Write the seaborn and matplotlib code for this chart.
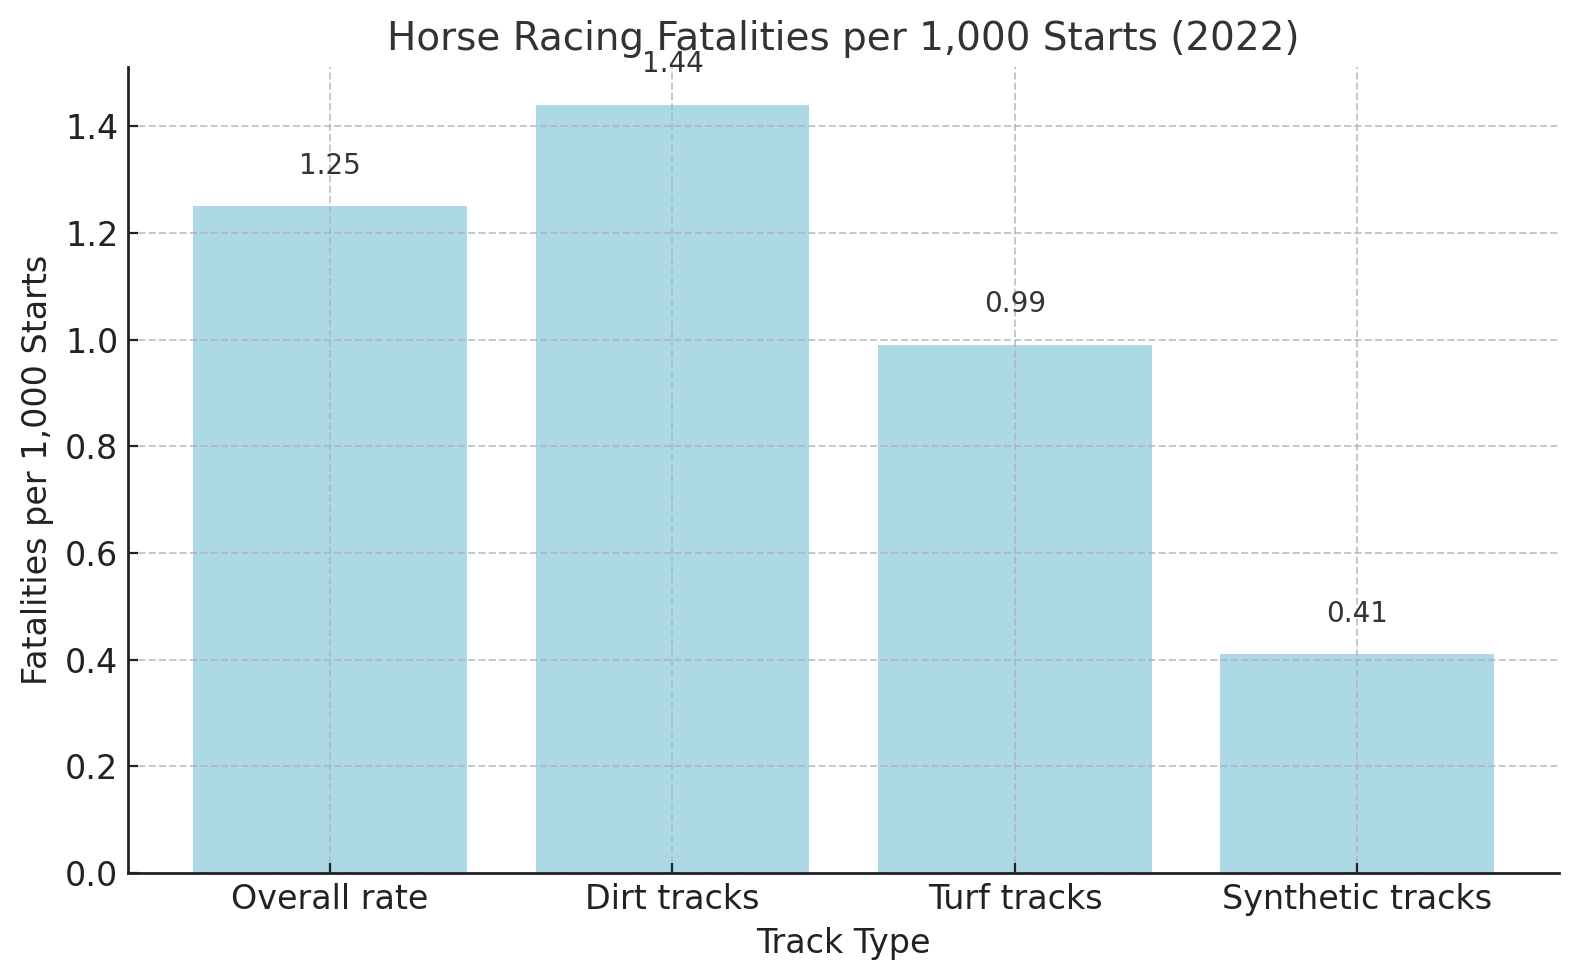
import matplotlib
matplotlib.use("Agg")
import matplotlib.pyplot as plt
import seaborn as sns
import pandas as pd

categories = ["Overall rate", "Dirt tracks", "Turf tracks", "Synthetic tracks"]
values = [1.25, 1.44, 0.99, 0.41]

df = pd.DataFrame({"Track Type": categories, "Rate": values})

plt.rcParams["font.family"] = ["DejaVu Sans"]
plt.rcParams["xtick.direction"] = "in"
plt.rcParams["ytick.direction"] = "in"

fig = plt.figure(figsize=(7.9, 4.9), dpi=200)
ax = fig.add_axes([0.081, 0.109, 0.906, 0.823])

sns.barplot(data=df, x="Track Type", y="Rate", color="#ADD8E6", saturation=1,
            width=0.8, ax=ax)

n = len(categories)
ax.set_xlim(-0.59, n - 1 + 0.59)
ax.set_ylim(0, max(values) * 1.05)
ax.set_axisbelow("line")
ax.grid(True, linestyle="--", color="#b0b0b0", alpha=0.7, linewidth=0.7)

for i, v in enumerate(values):
    ax.text(i, v + 0.05, f"{v:.2f}", ha="center", va="bottom",
            fontsize=10, color="#333333")

ax.set_title("Horse Racing Fatalities per 1,000 Starts (2022)", fontsize=14,
             color="#333333")
ax.set_xlabel("Track Type", fontsize=12, color="#222222")
ax.set_ylabel("Fatalities per 1,000 Starts", fontsize=12, color="#222222")
ax.tick_params(axis="both", labelsize=12, colors="#222222")
for s in ["top", "right"]:
    ax.spines[s].set_visible(False)
for s in ["left", "bottom"]:
    ax.spines[s].set_color("#222222")
    ax.spines[s].set_linewidth(1.0)

fig.savefig("out.png", dpi=200)
